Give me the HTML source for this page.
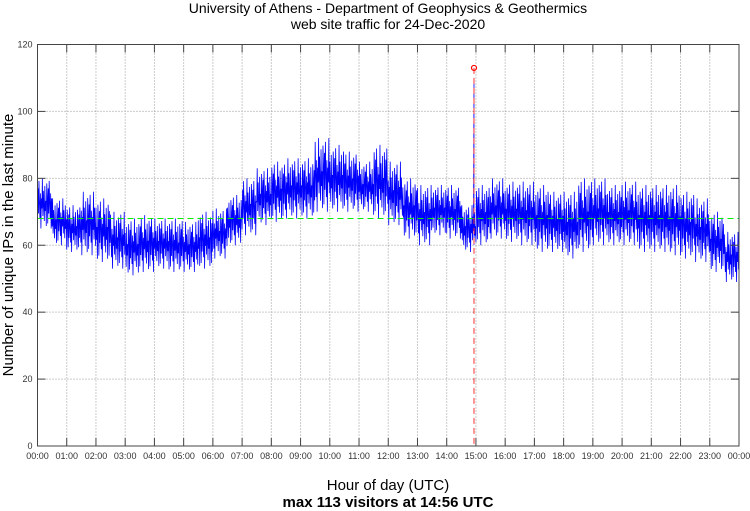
<!DOCTYPE html>
<html><head><meta charset="utf-8"><style>
body{margin:0;background:#fff;}
svg{display:block;font-family:"Liberation Sans",sans-serif;}
</style></head><body>
<svg id="chart" width="750" height="511" viewBox="0 0 750 511" xmlns="http://www.w3.org/2000/svg">
<text x="388" y="13" font-size="14" text-anchor="middle">University of Athens - Department of Geophysics &amp; Geothermics</text>
<text x="388" y="29" font-size="14" text-anchor="middle">web site traffic for 24-Dec-2020</text>
<g id="grid"></g>
<g id="series"></g>
<g id="axes"></g>
<text transform="translate(13,245) rotate(-90)" font-size="15" text-anchor="middle">Number of unique IPs in the last minute</text>
<text x="388" y="490" font-size="15" text-anchor="middle">Hour of day (UTC)</text>
<text x="388" y="507" font-size="15" font-weight="bold" text-anchor="middle">max 113 visitors at 14:56 UTC</text>
</svg>
<script>
const hourLabels=["00:00","01:00","02:00","03:00","04:00","05:00","06:00","07:00","08:00","09:00","10:00","11:00","12:00","13:00","14:00","15:00","16:00","17:00","18:00","19:00","20:00","21:00","22:00","23:00","00:00"];
const yTicks=[0,20,40,60,80,100,120];
const binLow=[65,60,58,57,55,53,51,52,53,52,52,53,56,60,63,66,67,68,68,70,70,70,70,68,66,62,60,63,62,58,60,62,61,60,58,58,56,58,60,60,60,58,58,57,56,55,52,49];
const binHigh=[80,74,72,76,74,70,68,69,68,68,67,70,71,75,80,83,85,86,86,92,90,88,85,90,85,80,78,78,78,72,78,80,79,79,78,76,76,80,80,78,79,78,78,78,76,74,70,64];
const meanValue=68;
const maxValue=113;
const maxMinute=14*60+56;
const spikeTop=109;

const NS="http://www.w3.org/2000/svg";
const L=37.5,R=739,T=44.5,B=446;
const xs=m=>L+(R-L)*m/1440;
const ys=v=>B-(B-T)*v/120;
function mk(tag,attrs,parent){const e=document.createElementNS(NS,tag);for(const k in attrs)e.setAttribute(k,attrs[k]);parent.appendChild(e);return e;}
const grid=document.getElementById('grid'),axes=document.getElementById('axes'),series=document.getElementById('series');

hourLabels.forEach((lab,i)=>{
  const x=xs(i*60);
  if(i>0&&i<24){const g=mk('line',{x1:x,x2:x,y1:T,y2:B,stroke:'#999','stroke-dasharray':'1,2','stroke-width':1},grid);
  
  }
  const t1=mk('line',{x1:x,x2:x,y1:B,y2:B-8,stroke:'#444'},axes);
  
  
  const t2=mk('line',{x1:x,x2:x,y1:T,y2:T+8,stroke:'#444'},axes);
  
  
  const tx=mk('text',{x:x,y:B+13,'font-size':9,'text-anchor':'middle',fill:'#333'},axes);
  tx.textContent=lab;
  
  
});
yTicks.forEach(v=>{
  const y=ys(v);
  if(v>0&&v<120){const g=mk('line',{x1:L,x2:R,y1:y,y2:y,stroke:'#999','stroke-dasharray':'1,2'},grid);
  
  }
  const t1=mk('line',{x1:L,x2:L+8,y1:y,y2:y,stroke:'#444'},axes);
  
  
  const t2=mk('line',{x1:R,x2:R-8,y1:y,y2:y,stroke:'#444'},axes);
  
  
  const tx=mk('text',{x:L-5,y:y+3,'font-size':9,'text-anchor':'end',fill:'#333'},axes);
  tx.textContent=v;
  
  
});
const frame=mk('rect',{x:L,y:T,width:R-L,height:B-T,fill:'none',stroke:'#444'},axes);



const pattern=[0.1,0.8,0.3,0.95,0.5,0.2,0.7,0.0,0.6,0.4,1.0,0.25,0.75,0.45,0.15,0.85,0.35,0.55,0.05,0.9,0.65];
let pts=[];const binMin=1440/binLow.length;const step=1;let k=0;
for(let i=0;i<binLow.length;i++){
  for(let m=0;m<binMin;m+=step,k++){
    const minute=i*binMin+m;
    const v=binLow[i]+(binHigh[i]-binLow[i])*pattern[k%pattern.length];
    if(minute===maxMinute){pts.push(xs(maxMinute)+','+ys(spikeTop));}
    pts.push(xs(minute).toFixed(2)+','+ys(v).toFixed(2));
  }
}
const line=mk('polyline',{points:pts.join(' '),fill:'none',stroke:'#0000ff','stroke-width':0.8},series);


const mean=mk('line',{x1:L,x2:R,y1:ys(meanValue),y2:ys(meanValue),stroke:'#00ee00','stroke-dasharray':'6,4','stroke-width':1},series);


const vmax=mk('line',{x1:xs(maxMinute),x2:xs(maxMinute),y1:ys(maxValue),y2:B,stroke:'#ff3333','stroke-dasharray':'6,4','stroke-width':1},series);


const mk1=mk('circle',{cx:xs(maxMinute),cy:ys(maxValue),r:2.5,fill:'none',stroke:'#ff0000','stroke-width':1.2},series);


</script>
</body></html>
